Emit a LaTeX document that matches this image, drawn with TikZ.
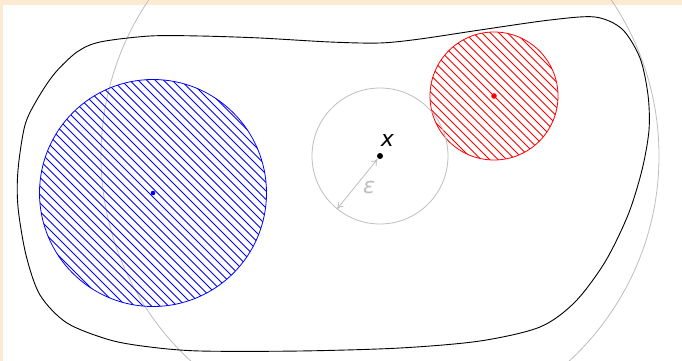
\documentclass[tikz,border=0pt]{standalone}
\usepackage{fontspec}
\newfontfamily\lblfont{DejaVu Sans}
\usetikzlibrary{arrows.meta,calc}
\definecolor{cream}{RGB}{252,235,210}
\definecolor{lgray}{RGB}{190,190,190}
\begin{document}
\begin{tikzpicture}[x=1pt,y=-1pt,
  ring/.style={draw=lgray,line width=0.8pt},
  hatchline/.style={line width=0.75pt},
  lbl/.style={font=\lblfont\itshape\fontsize{22}{24}\selectfont,inner sep=0pt}]
\useasboundingbox (0,0) rectangle (682,361);
\clip (0,0) rectangle (682,361);
\fill[cream] (0,0) rectangle (682,361);
\fill[white] (3,5) rectangle (682,361);
\coordinate (c) at (380,156);
\draw[ring] (c) circle[radius=279];
\draw[black,line width=0.9pt] plot[smooth cycle,tension=0.5] coordinates {
 (38,98) (55,73) (77,52) (100,42) (150,36) (200,36) (260,38) (330,42)
 (380,43) (420,39) (480,30) (550,20) (595,17) (622,29) (640,58) (648,95)
 (649,130) (642,170) (628,215) (605,262) (575,302) (540,327) (480,341)
 (400,348) (300,351) (200,351) (150,347) (110,340) (67,323) (40,295)
 (26,255) (18,207) (18,170) (25,125)};
\coordinate (bc) at (153,193);
\coordinate (rc) at (494,96);
% blue hatched disc
\begin{scope}
  \clip (bc) circle[radius=113.5];
  \begin{scope}[shift={(bc)}]
    \foreach \k in {-165.5,-157,...,166}
      \draw[blue,hatchline] (\k-130,-130) -- (\k+130,130);
  \end{scope}
\end{scope}
\draw[blue,line width=0.8pt] (bc) circle[radius=113.5];
% red hatched disc
\begin{scope}
  \clip (rc) circle[radius=64];
  \begin{scope}[shift={(rc)}]
    \foreach \k in {-93.5,-85,...,94}
      \draw[red,hatchline] (\k-80,-80) -- (\k+80,80);
  \end{scope}
\end{scope}
\draw[red,line width=0.8pt] (rc) circle[radius=64];
\fill[blue] (bc) circle[radius=2.3];
\fill[red] (rc) circle[radius=2.8];
\draw[ring] (c) circle[radius=68];
\coordinate (e) at ($(c)+(-42.8,52.8)$);
\draw[lgray,line width=0.8pt,shorten <=4pt,{To[length=6pt,width=7pt]}-{To[length=6pt,width=7pt]}] (c) -- (e);
\fill[black] (c) circle[radius=3];
\node[lbl] (xl) at (387.5,140) {x};
\node[lbl,text=lgray] (el) at (369,187) {ε};
\end{tikzpicture}
\end{document}
